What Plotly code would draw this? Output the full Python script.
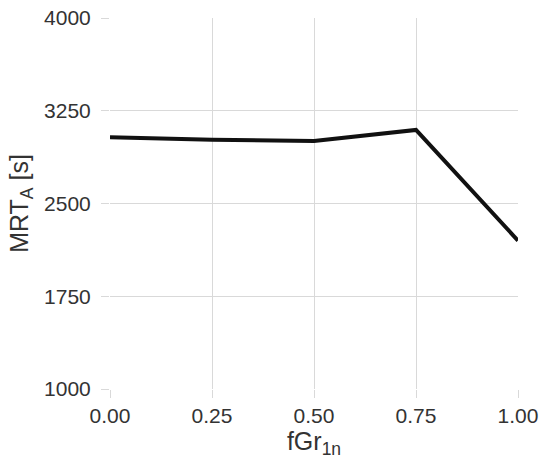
import plotly.graph_objects as go

x_vals = [0.0, 0.25, 0.5, 0.75, 1.0]
mrt_vals = [3035, 3015, 3005, 3095, 2200]
y_ticks = [1000, 1750, 2500, 3250, 4000]
x_ticks = [0.0, 0.25, 0.5, 0.75, 1.0]

fig = go.Figure()
fig.add_trace(go.Scatter(x=x_vals, y=mrt_vals, mode="lines",
                         line=dict(color="#111111", width=4), showlegend=False))

font = dict(family="Liberation Sans, Arial, sans-serif", size=21, color="#333333")
fig.update_layout(
    width=539, height=466,
    margin=dict(l=110, r=21, t=18, b=77),
    plot_bgcolor="white", paper_bgcolor="white",
    font=font,
)
fig.update_xaxes(range=[0, 1], tickvals=x_ticks, ticktext=[f"{v:.2f}" for v in x_ticks],
                 showgrid=True, gridcolor="#d9d9d9", gridwidth=1, zeroline=False,
                 ticks="outside", ticklen=8, tickcolor="#d9d9d9", automargin=False,
                 title=dict(text="fGr<sub>1n</sub>", standoff=5), showline=False)
fig.update_yaxes(range=[1000, 4000], tickvals=y_ticks,
                 showgrid=True, gridcolor="#d9d9d9", gridwidth=1, zeroline=False,
                 ticks="outside", ticklen=8, tickcolor="#d9d9d9", automargin=False,
                 ticklabelstandoff=6,
                 title=dict(text="MRT<sub>A</sub> [s]", standoff=8), showline=False)
fig.write_html("out.html", config={"displayModeBar": False},
               post_script="document.body.style.margin='0';document.body.style.overflow='hidden';")
